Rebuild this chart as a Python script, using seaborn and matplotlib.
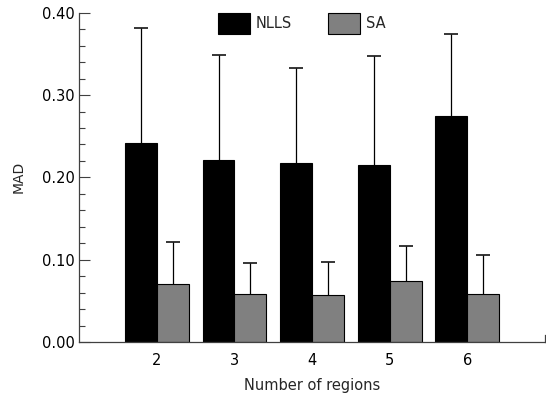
import numpy as np
import pandas as pd
import matplotlib
matplotlib.use("Agg")
import matplotlib.pyplot as plt
from matplotlib.ticker import MultipleLocator, FormatStrFormatter
import seaborn as sns

# Datos
regions = ['2', '3', '4', '5', '6']
nlls = [0.242, 0.221, 0.217, 0.215, 0.274]
nlls_err = [0.140, 0.128, 0.116, 0.132, 0.100]
sa = [0.071, 0.058, 0.057, 0.074, 0.058]
sa_err = [0.050, 0.038, 0.040, 0.043, 0.048]
methods = ['NLLS', 'SA']

df = pd.DataFrame({
    'region': regions * 2,
    'method': ['NLLS'] * len(regions) + ['SA'] * len(regions),
    'mad': nlls + sa,
    'err': nlls_err + sa_err,
})

sns.set_theme(style="white")
plt.rcParams['font.family'] = ['DejaVu Sans']

fig = plt.figure(figsize=(5.46, 3.98), dpi=100)
ax = fig.add_axes([0.1452, 0.1407, 0.998 - 0.1452, 0.968 - 0.1407])

sns.barplot(data=df, x='region', y='mad', hue='method', order=regions, hue_order=methods,
            palette=['#000000', '#808080'], width=0.82, errorbar=None,
            edgecolor='black', linewidth=0.8, ax=ax)

for p in ax.patches:
    p.set_zorder(3)

# barras de error solo hacia arriba
for i, m in enumerate(methods):
    sub = df[df['method'] == m]
    bars = ax.containers[i]
    xs = [b.get_x() + b.get_width() / 2 for b in bars]
    vals = sub['mad'].values
    up = sub['err'].values
    _, caps, _ = ax.errorbar(xs, vals, yerr=[np.zeros_like(up), up], fmt='none',
                             ecolor='black', elinewidth=0.9, capsize=5, capthick=1.1, zorder=1)
    # esconder el tope de abajo (el que cae sobre la barra)
    for c in caps:
        if np.allclose(c.get_ydata(), vals):
            c.set_visible(False)

ax.set_xlim(-1, 5)
ax.set_ylim(0, 0.40)
ax.yaxis.set_major_locator(MultipleLocator(0.1))
ax.yaxis.set_minor_locator(MultipleLocator(0.02))
ax.yaxis.set_major_formatter(FormatStrFormatter('%.2f'))
ax.tick_params(axis='y', which='major', direction='in', length=8, width=0.8,
               color='#404040', labelsize=10.5, labelcolor='black', pad=3, left=True)
ax.tick_params(axis='y', which='minor', direction='in', length=4, width=0.8,
               color='#404040', left=True)
ax.tick_params(axis='x', length=0, labelsize=10.5, labelcolor='black', pad=8)

ax.spines['top'].set_visible(False)
ax.spines['right'].set_bounds(0, 0.008)
for s in ['left', 'bottom', 'right']:
    ax.spines[s].set_color('#404040')
    ax.spines[s].set_linewidth(0.9)
    ax.spines[s].set_zorder(4)

ax.set_xlabel('Number of regions', fontsize=10.5, labelpad=7)
ax.set_ylabel('MAD', fontsize=10, labelpad=12)

ax.legend(loc='upper center', bbox_to_anchor=(0.478, 1.018), ncol=2, frameon=False,
          fontsize=10.5, handlelength=2.2, handleheight=1.9, handletextpad=0.4,
          columnspacing=2.5, borderaxespad=0)

fig.savefig('out.png', dpi=100, facecolor='white')
